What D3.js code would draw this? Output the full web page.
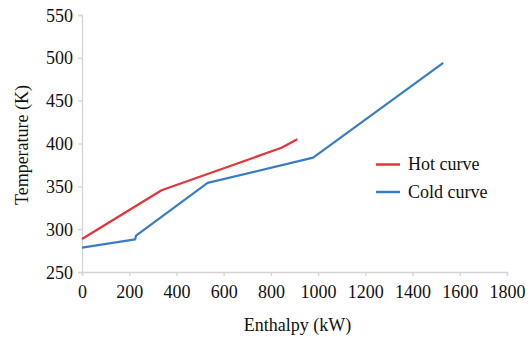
<!DOCTYPE html>
<html>
<head>
<meta charset="utf-8">
<script src="https://cdn.jsdelivr.net/npm/d3@7"></script>
<style>
  html, body { margin: 0; padding: 0; background: #fff; }
  #chart text { font-family: "Liberation Serif", "Times New Roman", serif; }
</style>
</head>
<body>
<svg id="chart" width="531" height="337"></svg>
<script>
(function () {
// Composite curves: enthalpy (kW) vs temperature (K)
const hotEnthalpy = [0, 337, 845, 912];
const hotTemp     = [288.5, 345.5, 395, 405];
const coldEnthalpy = [0, 225, 229, 532, 979, 1530];
const coldTemp     = [278.5, 288, 292.5, 354, 383.5, 494];

const xTicks = [0, 200, 400, 600, 800, 1000, 1200, 1400, 1600, 1800];
const yTicks = [250, 300, 350, 400, 450, 500, 550];

const seriesNames  = ["Hot curve", "Cold curve"];
const seriesColors = ["#e2343a", "#3a7cc4"];

const svg = d3.select("#chart");
const plotLeft = 82, plotRight = 507, plotTop = 15, plotBottom = 272;

const x = d3.scaleLinear().domain([0, 1800]).range([plotLeft, plotRight]);
const y = d3.scaleLinear().domain([250, 550]).range([plotBottom, plotTop]);

const axisColor = "#d4d4d4";

// Y axis
const yAxis = svg.append("g")
  .attr("transform", `translate(${plotLeft},0)`)
  .call(d3.axisLeft(y).tickValues(yTicks).tickFormat(d3.format("d")).tickSize(4).tickPadding(5));
// X axis
const xAxis = svg.append("g")
  .attr("transform", `translate(0,${plotBottom})`)
  .call(d3.axisBottom(x).tickValues(xTicks).tickFormat(d3.format("d")).tickSize(4).tickPadding(9));

[xAxis, yAxis].forEach(g => {
  g.attr("font-family", null).attr("font-size", null);
  g.select(".domain").attr("stroke", axisColor).attr("stroke-width", 1.3);
  g.selectAll(".tick line").attr("stroke", axisColor).attr("stroke-width", 1.3);
  g.selectAll(".tick text").attr("fill", "#111").style("font-size", "18px");
});
yAxis.selectAll(".tick text").attr("dy", "0.34em");

// Axis titles
svg.append("text")
  .attr("x", (plotLeft + plotRight) / 2 + 3)
  .attr("y", 331)
  .attr("text-anchor", "middle")
  .style("font-size", "18px")
  .attr("fill", "#111")
  .text("Enthalpy (kW)");

svg.append("text")
  .attr("transform", "translate(28,145) rotate(-90)")
  .attr("text-anchor", "middle")
  .style("font-size", "18px")
  .attr("fill", "#111")
  .text("Temperature (K)");

// Curves
const line = d3.line().x(d => x(d[0])).y(d => y(d[1]));
const hotData = hotEnthalpy.map((e, i) => [e, hotTemp[i]]);
const coldData = coldEnthalpy.map((e, i) => [e, coldTemp[i]]);

[hotData, coldData].forEach((data, i) => {
  svg.append("path")
    .datum(data)
    .attr("fill", "none")
    .attr("stroke", seriesColors[i])
    .attr("stroke-width", 2.2)
    .attr("stroke-linejoin", "round")
    .attr("d", line);
});

// Legend
const legend = svg.append("g");
seriesNames.forEach((name, i) => {
  const ly = 164.5 + i * 27.5;
  legend.append("line")
    .attr("x1", 376).attr("x2", 400)
    .attr("y1", ly).attr("y2", ly)
    .attr("stroke", seriesColors[i])
    .attr("stroke-width", 2.5);
  legend.append("text")
    .attr("x", 408)
    .attr("y", ly + 5.5)
    .style("font-size", "18px")
    .attr("fill", "#111")
    .text(name);
});
})();
</script>
</body>
</html>
